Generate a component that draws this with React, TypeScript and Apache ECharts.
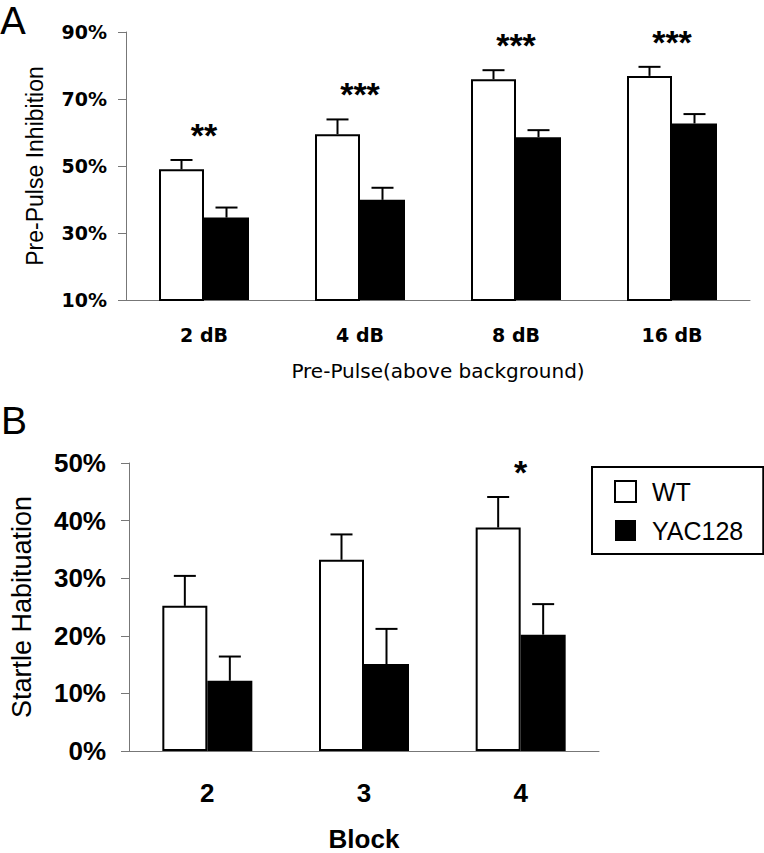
import React, { useEffect, useRef } from "react";
import * as echarts from "echarts";

// Panel A: Pre-pulse inhibition
const catsA = ["2 dB", "4 dB", "8 dB", "16 dB"];
const wtA = [49, 59.5, 75.9, 76.9];
const wtErrA = [2.8, 4.4, 2.7, 2.7];
const yacA = [34.6, 39.9, 58.6, 62.7];
const yacErrA = [3.0, 3.6, 2.1, 2.8];
const starsA = ["**", "***", "***", "***"];
const yTicksA = { min: 10, max: 90, interval: 20 };

// Panel B: Startle habituation
const catsB = ["2", "3", "4"];
const wtB = [25.2, 33.2, 38.8];
const wtErrB = [5.2, 4.4, 5.3];
const yacB = [12.2, 15.1, 20.2];
const yacErrB = [4.2, 6.1, 5.3];
const starsB = ["", "", "*"];
const yTicksB = { min: 0, max: 50, interval: 10 };

const BAR_W = 45;
const CAP_HALF = 11;
const STAR_OFFSET = 25;

function errSeries(name: string, vals: number[], errs: number[], idx: number, offset: number) {
  return {
    type: "custom",
    name,
    xAxisIndex: idx,
    yAxisIndex: idx,
    z: 5,
    data: vals.map((v, i) => [i, v, errs[i]]),
    renderItem: (params: any, api: any) => {
      const ci = api.value(0);
      const v = api.value(1);
      const e = api.value(2);
      const base = api.coord([ci, v]);
      const top = api.coord([ci, v + e]);
      const x = base[0] + offset;
      const st = { stroke: "#000", lineWidth: 2 };
      return {
        type: "group",
        children: [
          { type: "line", shape: { x1: x, y1: base[1], x2: x, y2: top[1] }, style: st },
          { type: "line", shape: { x1: x - CAP_HALF, y1: top[1], x2: x + CAP_HALF, y2: top[1] }, style: st },
        ],
      };
    },
  };
}

function starSeries(name: string, vals: number[], errs: number[], labels: string[], idx: number) {
  return {
    type: "custom",
    name,
    xAxisIndex: idx,
    yAxisIndex: idx,
    z: 6,
    data: vals.map((v, i) => [i, v + errs[i]]),
    renderItem: (params: any, api: any) => {
      const p = api.coord([api.value(0), api.value(1)]);
      return {
        type: "text",
        x: p[0],
        y: p[1] - STAR_OFFSET,
        style: {
          text: labels[params.dataIndex],
          fill: "#000",
          fontSize: 34,
          fontWeight: "bold",
          fontFamily: "Liberation Sans",
          align: "center",
          verticalAlign: "middle",
        },
      };
    },
  };
}

const axisLineStyle = { color: "#777", width: 1 };

export default function App() {
  const ref = useRef<HTMLDivElement>(null);
  useEffect(() => {
    document.body.style.margin = "0";
    const chart = echarts.init(ref.current!, null, { renderer: "svg" });
    const option: any = {
      animation: false,
      backgroundColor: "#fff",
      graphic: [
        { type: "text", left: 0, top: 2, style: { text: "A", fontSize: 38, fontFamily: "DejaVu Sans", fill: "#000" } },
        { type: "text", left: 1, top: 401, style: { text: "B", fontSize: 39, fontFamily: "Liberation Sans", fill: "#000" } },
      ],
      legend: {
        data: [
          { name: "WT", itemStyle: { color: "#fff", borderColor: "#000", borderWidth: 2 } },
          { name: "YAC128", itemStyle: { color: "#000", borderWidth: 0 } },
        ],
        orient: "vertical",
        left: 592,
        top: 467,
        icon: "rect",
        itemWidth: 21,
        itemHeight: 21,
        itemGap: 14,
        padding: [12, 20, 11, 22],
        borderColor: "#000",
        borderWidth: 2,
        selectedMode: false,
        textStyle: { fontSize: 25, fontFamily: "Liberation Sans", color: "#000", padding: [0, 0, 0, 11] },
      },
      grid: [
        { left: 126, top: 32, width: 624, height: 268 },
        { left: 125, top: 463, width: 474, height: 291 },
      ],
      xAxis: [
        {
          type: "category",
          gridIndex: 0,
          data: catsA,
          axisLine: { lineStyle: axisLineStyle },
          axisTick: { length: 7, lineStyle: axisLineStyle },
          axisLabel: { margin: 25, fontFamily: "DejaVu Sans", fontWeight: "bold", fontSize: 19, color: "#000" },
          name: "Pre-Pulse(above background)",
          nameLocation: "middle",
          nameGap: 61,
          nameTextStyle: { fontFamily: "DejaVu Sans", fontSize: 20, color: "#000" },
        },
        {
          type: "category",
          gridIndex: 1,
          data: catsB,
          axisLine: { lineStyle: axisLineStyle },
          axisTick: { length: 7, lineStyle: axisLineStyle },
          axisLabel: { margin: 29, fontFamily: "Liberation Sans", fontWeight: "bold", fontSize: 26, color: "#000" },
          name: "Block",
          nameLocation: "middle",
          nameGap: 75,
          nameTextStyle: { fontFamily: "Liberation Sans", fontWeight: "bold", fontSize: 26, color: "#000" },
        },
      ],
      yAxis: [
        {
          type: "value",
          gridIndex: 0,
          min: yTicksA.min,
          max: yTicksA.max,
          interval: yTicksA.interval,
          splitLine: { show: false },
          axisLine: { show: true, lineStyle: axisLineStyle },
          axisTick: { show: true, length: 8, lineStyle: axisLineStyle },
          axisLabel: { formatter: "{value}%", margin: 19, fontFamily: "DejaVu Sans", fontWeight: "bold", fontSize: 19, color: "#000" },
          name: "Pre-Pulse Inhibition",
          nameLocation: "middle",
          nameRotate: 90,
          nameGap: 80,
          nameTextStyle: { fontFamily: "Liberation Sans", fontSize: 23, color: "#000" },
        },
        {
          type: "value",
          gridIndex: 1,
          min: yTicksB.min,
          max: yTicksB.max,
          interval: yTicksB.interval,
          splitLine: { show: false },
          axisLine: { show: true, lineStyle: axisLineStyle },
          axisTick: { show: true, length: 8, lineStyle: axisLineStyle },
          axisLabel: { formatter: "{value}%", margin: 23, fontFamily: "Liberation Sans", fontWeight: "bold", fontSize: 26, color: "#000" },
          name: "Startle Habituation",
          nameLocation: "middle",
          nameRotate: 90,
          nameGap: 94,
          nameTextStyle: { fontFamily: "Liberation Sans", fontSize: 27, color: "#000" },
        },
      ],
      series: [
        {
          type: "bar", name: "WT", xAxisIndex: 0, yAxisIndex: 0, data: wtA, barWidth: BAR_W, barGap: "0%",
          itemStyle: { color: "#fff", borderColor: "#000", borderWidth: 2 },
        },
        {
          type: "bar", name: "YAC128", xAxisIndex: 0, yAxisIndex: 0, data: yacA, barWidth: BAR_W, barGap: "0%",
          itemStyle: { color: "#000", borderWidth: 0 },
        },
        {
          type: "bar", name: "WT", xAxisIndex: 1, yAxisIndex: 1, data: wtB, barWidth: BAR_W, barGap: "0%",
          itemStyle: { color: "#fff", borderColor: "#000", borderWidth: 2 },
        },
        {
          type: "bar", name: "YAC128", xAxisIndex: 1, yAxisIndex: 1, data: yacB, barWidth: BAR_W, barGap: "0%",
          itemStyle: { color: "#000", borderWidth: 0 },
        },
        errSeries("errWTA", wtA, wtErrA, 0, -BAR_W / 2),
        errSeries("errYACA", yacA, yacErrA, 0, BAR_W / 2),
        errSeries("errWTB", wtB, wtErrB, 1, -BAR_W / 2),
        errSeries("errYACB", yacB, yacErrB, 1, BAR_W / 2),
        starSeries("starsA", wtA, wtErrA, starsA, 0),
        starSeries("starsB", wtB, wtErrB, starsB, 1),
      ],
    };
    chart.setOption(option);
    return () => chart.dispose();
  }, []);
  return <div ref={ref} style={{ position: "fixed", left: 0, top: 0, width: 764, height: 853 }} />;
}
